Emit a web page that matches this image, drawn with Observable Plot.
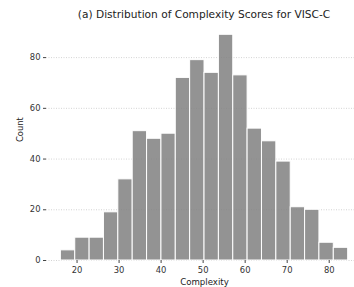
<!DOCTYPE html>
<html>
<head>
<meta charset="utf-8">
<script src="https://cdn.jsdelivr.net/npm/d3@7"></script>
<script src="https://cdn.jsdelivr.net/npm/@observablehq/plot@0.6"></script>
<style>
  html, body { margin: 0; padding: 0; background: #fff; }
  #wrap { width: 354px; height: 287px; overflow: hidden; position: relative; font-family: "DejaVu Sans", sans-serif; }
  #title { position: relative; height: 22px; }
  #title span { position: absolute; left: 204px; top: 9px; transform: translateX(-50%); font-size: 10.6px; line-height: 1; white-space: nowrap; color: #222; }
</style>
</head>
<body>
<div id="wrap">
  <div id="title"><span>(a) Distribution of Complexity Scores for VISC-C</span></div>
  <div id="chart"></div>
</div>
<script>
const binEdges = [16.15, 19.57, 22.99, 26.40, 29.82, 33.24, 36.66, 40.08, 43.49, 46.91, 50.33,
                  53.75, 57.17, 60.58, 64.00, 67.42, 70.84, 74.26, 77.67, 81.09, 84.51];
const counts = [4, 9, 9, 19, 32, 51, 48, 50, 72, 79, 74, 89, 73, 52, 47, 39, 21, 20, 7, 5];
const xTicks = [20, 30, 40, 50, 60, 70, 80];
const yTicks = [0, 20, 40, 60, 80];
const xLabel = "Complexity";
const yLabel = "Count";

const bins = counts.map((c, i) => ({x1: binEdges[i], x2: binEdges[i + 1], count: c}));

const chart = Plot.plot({
  width: 354,
  height: 265,
  marginLeft: 46,
  marginRight: -8,
  marginTop: 1,
  marginBottom: 27,
  style: {fontFamily: "DejaVu Sans, sans-serif", color: "#333", overflow: "visible"},
  x: {domain: [12.73, 87.92]},
  y: {domain: [0, 93.45]},
  marks: [
    Plot.gridY(yTicks, {stroke: "#c8c8c8", strokeOpacity: 1, strokeWidth: 0.8, strokeDasharray: "1,1.5"}),
    Plot.rectY(bins, {x1: "x1", x2: "x2", y: "count", fill: "#808080", fillOpacity: 0.85, stroke: "white", strokeWidth: 1}),
    Plot.axisX(xTicks, {tickSize: 3, tickPadding: 4, fontSize: 8.4, label: null, stroke: "#444"}),
    Plot.axisY(yTicks, {tickSize: 3, tickPadding: 3, fontSize: 8.4, label: null, stroke: "#444"}),
    Plot.text([xLabel], {frameAnchor: "bottom", dy: 24, fontSize: 8.6, fill: "#222"}),
    Plot.text([yLabel], {frameAnchor: "left", rotate: -90, dx: -26, fontSize: 8.4, fill: "#222"})
  ]
});
document.getElementById("chart").appendChild(chart);
</script>
</body>
</html>
